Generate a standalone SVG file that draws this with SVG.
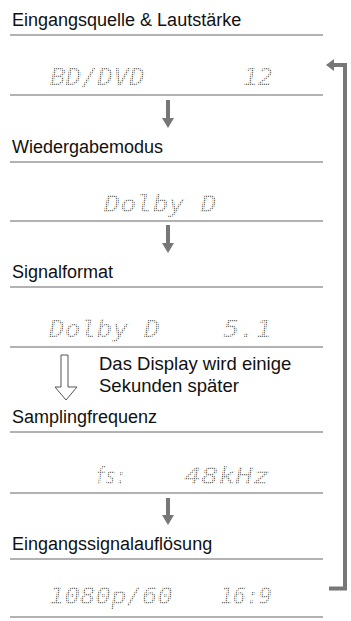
<svg xmlns="http://www.w3.org/2000/svg" width="351" height="621" viewBox="0 0 351 621">
<style>
.hd{font-family:"Liberation Sans",Arial,sans-serif;font-size:18px;fill:#111}
.sep{stroke:#666;stroke-width:1.2;fill:none}
.lcd{font-family:"DejaVu Sans Mono",monospace;font-style:italic;font-size:23px;fill:url(#dots)}
.arr{stroke:#777;stroke-width:4;fill:none}
.brk{stroke:#777;stroke-width:4;fill:none;stroke-linejoin:miter}
.hollow{fill:#fff;stroke:#555;stroke-width:1}
.note{font-family:"Liberation Sans",Arial,sans-serif;font-size:18.5px;fill:#111}
</style>
<defs>
<pattern id="dots" width="2" height="2" patternUnits="userSpaceOnUse">
<rect width="1.3" height="1.3" fill="#777"/>
</pattern>
<marker id="ah" viewBox="0 0 10 12" refX="0" refY="6" markerWidth="10" markerHeight="12" markerUnits="userSpaceOnUse" orient="auto">
<path d="M0,0 L10,6 L0,12 Z" fill="#777"/>
</marker>
<marker id="bh" viewBox="0 0 8 12" refX="0" refY="6" markerWidth="8" markerHeight="12" markerUnits="userSpaceOnUse" orient="auto">
<path d="M0,0 L8,6 L0,12 Z" fill="#777"/>
</marker>
</defs>
<rect width="351" height="621" fill="#fff"/>
<g id="node-eingangsquelle">
<text class="hd" x="12" y="26">Eingangsquelle &amp; Lautstärke</text>
<line class="sep" x1="10" y1="35" x2="323" y2="35"/>
<text class="lcd" x="50" y="85" textLength="95" lengthAdjust="spacingAndGlyphs">BD/DVD</text>
<text class="lcd" x="243" y="85" textLength="30" lengthAdjust="spacingAndGlyphs">12</text>
<line class="sep" x1="10" y1="95" x2="323" y2="95"/>
</g>
<g id="node-wiedergabemodus">
<text class="hd" x="12" y="153">Wiedergabemodus</text>
<line class="sep" x1="10" y1="162" x2="323" y2="162"/>
<text class="lcd" x="104" y="212" textLength="113" lengthAdjust="spacingAndGlyphs">Dolby D</text>
<line class="sep" x1="10" y1="221" x2="323" y2="221"/>
</g>
<g id="node-signalformat">
<text class="hd" x="12" y="278">Signalformat</text>
<line class="sep" x1="10" y1="287" x2="323" y2="287"/>
<text class="lcd" x="49" y="337" textLength="111" lengthAdjust="spacingAndGlyphs">Dolby D</text>
<text class="lcd" x="223" y="337" textLength="49" lengthAdjust="spacingAndGlyphs">5.1</text>
<line class="sep" x1="10" y1="347" x2="323" y2="347"/>
</g>
<g id="node-samplingfrequenz">
<text class="hd" x="12" y="423">Samplingfrequenz</text>
<line class="sep" x1="10" y1="432" x2="323" y2="432"/>
<text class="lcd" x="95" y="484" textLength="31" lengthAdjust="spacingAndGlyphs">fs:</text>
<text class="lcd" x="184" y="484" textLength="86" lengthAdjust="spacingAndGlyphs">48kHz</text>
<line class="sep" x1="10" y1="493" x2="323" y2="493"/>
</g>
<g id="node-aufloesung">
<text class="hd" x="12" y="550">Eingangssignalauflösung</text>
<line class="sep" x1="10" y1="559" x2="323" y2="559"/>
<text class="lcd" x="49" y="604" textLength="124" lengthAdjust="spacingAndGlyphs">1080p/60</text>
<text class="lcd" x="220" y="604" textLength="52" lengthAdjust="spacingAndGlyphs">16:9</text>
<line class="sep" x1="10" y1="617" x2="323" y2="617"/>
</g>
<g id="connectors">
<line class="arr" x1="168" y1="100" x2="168" y2="118" marker-end="url(#ah)"/>
<line class="arr" x1="168" y1="225" x2="168" y2="243" marker-end="url(#ah)"/>
<line class="arr" x1="168" y1="498" x2="168" y2="515" marker-end="url(#ah)"/>
<path class="hollow" d="M61,355 V387 H55 L66,400 L77,387 H68 V355 Z"/>
<text class="note" x="99" y="370">Das Display wird einige</text>
<text class="note" x="99" y="392">Sekunden später</text>
<path class="brk" d="M329,588.5 H345 V65 H334" marker-end="url(#bh)"/>
</g>
</svg>
